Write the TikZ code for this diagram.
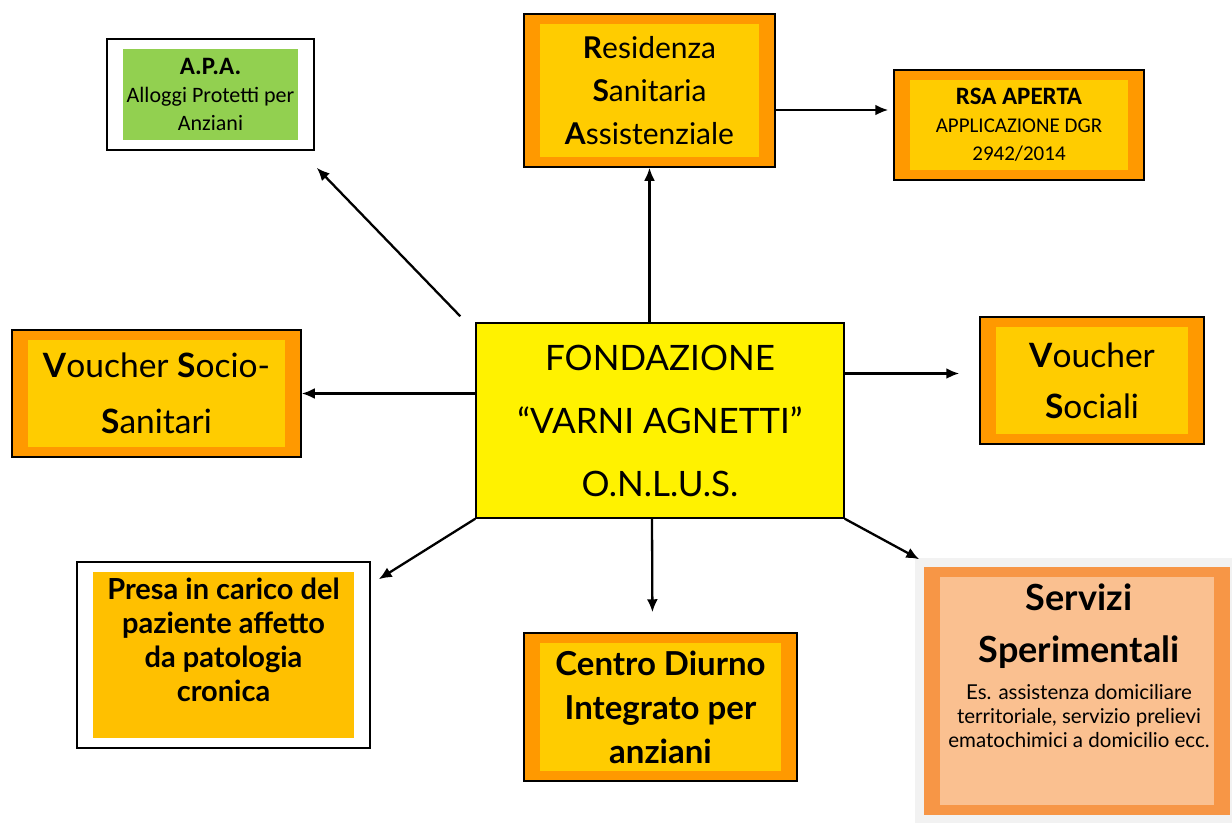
\documentclass[tikz,border=0pt]{standalone}
\usepackage{fontspec}
\setmainfont{Carlito}
\newfontfamily\berlin{Lato}
\usepackage{tikz}
\usetikzlibrary{arrows.meta}
\definecolor{arancio}{HTML}{FF9900}
\definecolor{giallo}{HTML}{FFCC00}
\definecolor{oro}{HTML}{FFC000}
\definecolor{verde}{HTML}{92D050}
\definecolor{servout}{HTML}{F79646}
\definecolor{servin}{HTML}{FAC090}
\definecolor{grigio}{HTML}{F2F2F2}

\begin{document}
\begin{tikzpicture}[x=1pt, y=-1pt, >={Latex[length=13pt,width=11pt]},
  frame/.style 2 args={draw=black, line width=1.5pt, fill=#1, inner sep=0pt, align=center,
    path picture={\fill[#2] ([shift={(16,10)}]path picture bounding box.north west)
      rectangle ([shift={(-16,-10)}]path picture bounding box.south east);}},
  big/.style={font=\berlin\fontsize{33.5}{#1}\selectfont},
  arr/.style={every edge/.style={draw, ->, line width=2.3pt}}]
\useasboundingbox (0,0) rectangle (1232,823);

\node[draw=black, line width=1.5pt, fill=yellow, minimum width=368pt, minimum height=195pt,
  align=center, font=\berlin\fontsize{35}{63}\selectfont] (fond) at (660,420.5)
  {FONDAZIONE\\“VARNI AGNETTI”\\O.N.L.U.S.};

\node[frame={white}{verde}, minimum width=207pt, minimum height=111pt,
  font=\fontsize{22}{28}\selectfont] (apa) at (210.5,94.5)
  {\fontsize{25}{28}\selectfont\textbf{A.P.A.}\\Alloggi Protetti per\\Anziani};
\node[frame={arancio}{giallo}, minimum width=251pt, minimum height=153pt,
  font=\berlin\fontsize{30}{43}\selectfont] (rsa) at (649.5,90.5)
  {\textbf{R}esidenza\\\textbf{S}anitaria\\\textbf{A}ssistenziale};
\node[frame={arancio}{giallo}, minimum width=250pt, minimum height=110pt,
  font=\fontsize{21}{28}\selectfont] (rsaa) at (1019,125)
  {\fontsize{25}{28}\selectfont\textbf{RSA APERTA}\\APPLICAZIONE DGR\\2942/2014};
\node[frame={arancio}{giallo}, minimum width=289pt, minimum height=127pt, big=56] (vso) at (156.5,393.5)
  {\textbf{V}oucher \textbf{S}ocio-\\\textbf{S}anitari};
\node[frame={arancio}{giallo}, minimum width=224pt, minimum height=127pt, big=51] (vsoc) at (1092,380.5)
  {\textbf{V}oucher\\\textbf{S}ociali};
\node[frame={white}{oro}, minimum width=293pt, minimum height=186pt, text depth=30pt,
  font=\berlin\bfseries\fontsize{29}{34}\selectfont] (presa) at (223.5,655)
  {Presa in carico del\\paziente affetto\\da patologia\\cronica};
\node[frame={arancio}{giallo}, minimum width=273pt, minimum height=148pt,
  font=\berlin\bfseries\fontsize{33}{44}\selectfont] (cdi) at (660.5,707)
  {Centro Diurno\\Integrato per\\anziani};

% servizi sperimentali, con ombra
\fill[grigio] (915,558) rectangle (1232,823);
\node[frame={servout}{servin}, draw=none, minimum width=306pt, minimum height=248pt] (serv) at (1077,691) {};
\node[align=center, font=\berlin\bfseries\fontsize{36}{52}\selectfont] (servtit)
  at ([shift={(2,-65)}]serv.center) {Servizi\\Sperimentali};
\node[align=center, font=\berlin\fontsize{20.5}{24}\selectfont] (servtxt)
  at ([shift={(2,25)}]serv.center)
  {Es. assistenza domiciliare\\territoriale, servizio prelievi\\ematochimici a domicilio ecc.};

\coordinate (r2) at ([shift={(0,19.5)}]rsa.east);
\coordinate (r5) at ([shift={(0,-47)}]fond.east);
\path[arr]
(fond.north -| rsa.south) edge (rsa.south)
(r2) edge[shorten >=5pt] (r2 -| rsaa.west)
([shift={(-15,-6)}]fond.north west) edge ([shift={(2,17)}]apa.south east)
(fond.west |- vso.east) edge (vso.east)
(r5) edge[shorten >=20pt] (r5 -| vsoc.west)
(fond.south west) edge ([shift={(8,18)}]presa.north east)
([xshift=-8pt]fond.south) edge[shorten >=20pt] ([xshift=-8pt]cdi.north)
(fond.south east) edge ([shift={(-4,-7)}]serv.north west);
\end{tikzpicture}
\end{document}
